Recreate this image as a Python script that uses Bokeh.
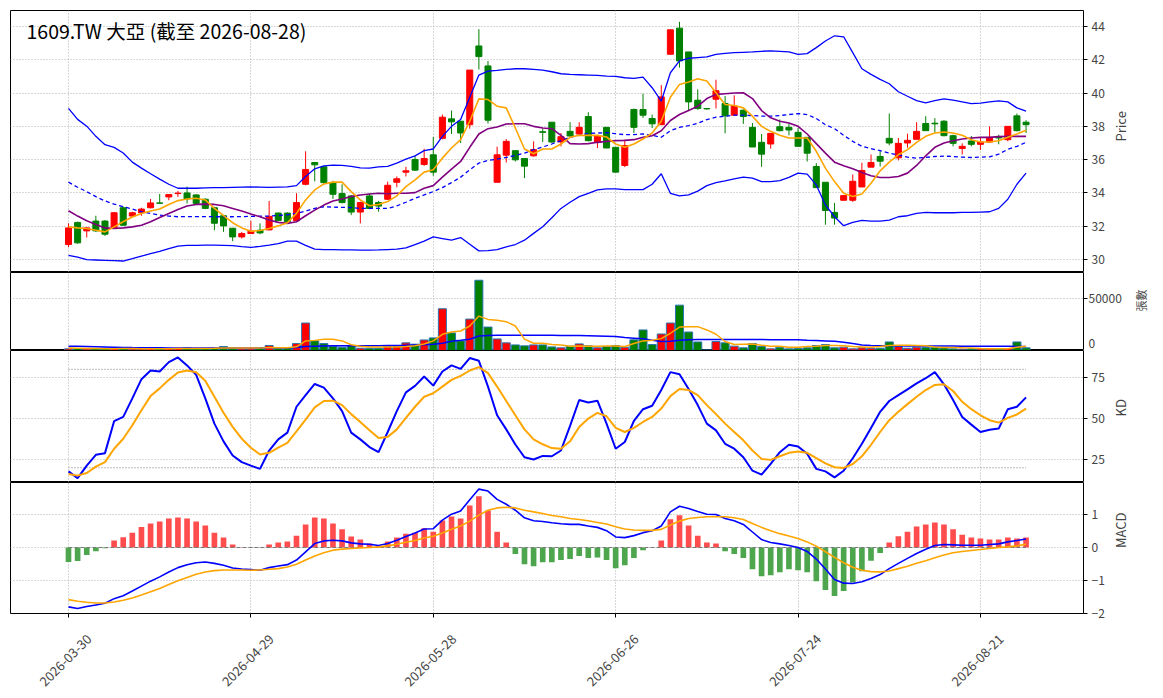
import math
from bokeh.plotting import figure
from bokeh.layouts import column
from bokeh.models import Range1d, FixedTicker, Label, LinearAxis
from bokeh.embed import file_html
from bokeh.resources import INLINE

# ---------------- data ----------------
title_text = "1609.TW 大亞 (截至 2026-08-28)"
tick_index = [0, 20, 40, 60, 80, 100]
tick_labels = ["2026-03-30", "2026-04-29", "2026-05-28", "2026-06-26", "2026-07-24", "2026-08-21"]

open_ = [30.9, 32.23, 31.72, 32.31, 32.31, 31.92, 33.11, 32.61, 32.81, 33.11,
         33.4, 33.76, 33.96, 34.0, 33.88, 33.62, 33.11, 32.63, 31.88, 31.36,
         31.56, 31.76, 31.78, 32.79, 32.79, 32.33, 34.52, 35.83, 35.57, 34.62,
         33.96, 33.82, 32.85, 33.82, 33.42, 33.62, 34.64, 35.25, 36.01, 35.71,
         36.29, 37.28, 38.45, 38.31, 38.1, 42.83, 41.63, 34.64, 36.27, 36.54,
         36.07, 36.23, 37.68, 38.25, 37.06, 37.7, 37.54, 38.59, 37.06, 37.94,
         36.74, 35.65, 39.01, 39.01, 38.47, 38.1, 42.33, 43.9, 42.47, 39.57,
         39.07, 39.63, 39.37, 38.67, 38.97, 37.94, 37.04, 36.94, 37.98, 37.94,
         37.64, 37.34, 35.59, 34.64, 32.83, 33.56, 33.56, 34.36, 35.55, 36.19,
         37.28, 36.11, 37.0, 37.22, 38.17, 38.19, 38.31, 37.44, 36.67, 37.12,
         36.92, 37.06, 37.36, 37.2, 38.63, 38.25]
high = [32.17, 32.27, 31.96, 32.63, 32.37, 32.85, 33.17, 32.87, 33.11, 33.64,
        33.94, 33.9, 34.12, 34.38, 33.92, 33.68, 33.17, 32.63, 31.88, 31.66,
        32.33, 32.17, 33.52, 32.83, 32.83, 33.98, 36.5, 35.83, 35.57, 34.73,
        34.52, 33.88, 33.48, 33.98, 33.52, 34.68, 34.99, 35.57, 36.23, 36.66,
        37.36, 38.71, 38.95, 38.31, 41.38, 43.84, 41.93, 36.78, 37.24, 36.54,
        36.07, 37.1, 37.86, 38.25, 37.6, 38.25, 38.25, 38.85, 37.5, 37.94,
        36.74, 37.2, 39.07, 39.96, 38.71, 40.48, 43.8, 44.28, 42.47, 40.22,
        39.1, 40.8, 39.82, 39.86, 39.01, 38.2, 37.54, 37.58, 38.41, 38.17,
        37.9, 37.34, 35.79, 34.64, 33.4, 33.84, 35.11, 35.81, 36.31, 36.54,
        38.77, 37.3, 37.56, 38.25, 38.61, 38.49, 38.37, 37.5, 36.98, 37.42,
        37.32, 38.0, 37.5, 38.0, 38.77, 38.37]
low = [30.75, 30.95, 31.32, 31.66, 31.42, 31.92, 32.04, 32.59, 32.63, 33.07,
       33.38, 33.56, 33.76, 33.37, 33.35, 33.03, 31.76, 31.66, 31.1, 31.26,
       31.56, 31.52, 31.76, 32.31, 32.21, 32.27, 34.46, 34.69, 34.52, 33.64,
       33.38, 32.67, 32.17, 33.03, 32.87, 33.58, 34.34, 34.99, 35.33, 35.63,
       35.03, 37.22, 37.54, 37.0, 37.86, 41.42, 38.17, 34.64, 35.83, 35.89,
       34.89, 36.19, 37.06, 37.0, 36.8, 37.38, 37.5, 37.1, 36.7, 36.7,
       35.25, 35.55, 37.6, 38.51, 37.9, 38.1, 42.33, 41.53, 38.95, 39.0,
       39.0, 39.07, 37.58, 38.67, 38.15, 36.76, 35.57, 36.66, 37.7, 37.46,
       36.8, 35.89, 34.32, 32.09, 32.09, 33.56, 33.46, 34.36, 35.55, 35.59,
       36.86, 35.95, 36.72, 37.22, 37.74, 37.62, 37.4, 36.8, 36.31, 36.8,
       36.58, 37.0, 36.92, 37.1, 37.7, 37.6]
close = [31.9, 31.0, 31.9, 31.72, 31.52, 32.81, 32.06, 32.81, 33.03, 33.4,
         33.38, 33.9, 33.99, 33.64, 33.37, 33.07, 32.18, 32.02, 31.36, 31.56,
         31.7, 31.6, 32.59, 32.35, 32.27, 33.42, 35.41, 35.69, 34.62, 33.92,
         33.42, 32.85, 33.42, 33.07, 33.21, 34.46, 34.85, 35.33, 35.37, 36.07,
         35.25, 38.55, 38.27, 37.6, 41.38, 42.19, 38.37, 36.29, 37.1, 35.99,
         35.61, 36.6, 37.64, 37.06, 37.38, 37.42, 37.94, 37.14, 37.4, 36.7,
         35.25, 36.84, 37.94, 38.67, 38.15, 39.77, 43.8, 41.93, 39.47, 39.07,
         39.05, 40.14, 38.63, 39.23, 38.59, 36.76, 36.33, 37.58, 37.74, 37.78,
         36.8, 36.39, 34.32, 32.95, 32.49, 33.84, 34.7, 35.35, 35.83, 35.91,
         37.0, 36.98, 37.16, 37.7, 37.74, 38.15, 37.44, 36.98, 36.8, 36.92,
         37.06, 37.34, 37.3, 38.0, 37.74, 38.1]
ma5 = [31.96, 31.9, 31.86, 31.76, 31.66, 31.96, 32.27, 32.55, 32.77, 32.91,
       33.03, 33.31, 33.54, 33.64, 33.68, 33.58, 33.07, 32.63, 32.21, 31.9,
       31.7, 31.74, 31.86, 32.02, 32.21, 32.77, 33.58, 34.18, 34.54, 34.65,
       34.65, 34.08, 33.58, 33.23, 33.31, 33.48, 33.82, 34.38, 34.78, 35.25,
       35.39, 36.09, 36.7, 37.2, 38.31, 39.65, 39.61, 39.21, 39.11, 37.9,
       36.64, 36.35, 36.64, 36.64, 36.94, 37.34, 37.46, 37.46, 37.46, 37.36,
       36.94, 36.74, 36.94, 37.24, 37.6, 38.31, 39.75, 40.52, 40.66, 40.86,
       40.72, 40.02, 39.31, 39.25, 39.11, 38.61, 38.0, 37.7, 37.46, 37.3,
       37.3, 37.3, 36.5, 35.49, 34.68, 33.98, 33.78, 33.94, 34.58, 35.33,
       35.85, 36.29, 36.6, 37.04, 37.4, 37.6, 37.66, 37.6, 37.46, 37.2,
       37.06, 37.06, 37.14, 37.34, 37.54, 37.76]
ma10 = [32.93, 32.61, 32.33, 32.1, 31.9, 31.86, 31.9, 31.96, 32.06, 32.27,
        32.53, 32.77, 33.01, 33.21, 33.31, 33.33, 33.31, 33.23, 33.07, 32.91,
        32.73, 32.57, 32.37, 32.23, 32.17, 32.27, 32.63, 32.97, 33.27, 33.52,
        33.64, 33.78, 33.88, 33.94, 33.98, 33.95, 33.98, 33.98, 34.02, 34.28,
        34.44, 34.95, 35.43, 35.89, 36.74, 37.54, 37.86, 37.96, 38.14, 38.16,
        38.16, 38.0, 37.9, 37.86, 37.46, 36.96, 36.94, 36.96, 37.04, 37.1,
        37.14, 37.16, 37.2, 37.34, 37.44, 37.74, 38.35, 38.71, 38.95, 39.21,
        39.67, 39.92, 39.96, 40.0, 40.02, 39.67, 38.95, 38.51, 38.31, 38.2,
        38.0, 37.54, 36.96, 36.39, 35.85, 35.63, 35.45, 35.23, 35.03, 34.93,
        34.93, 34.99, 35.19, 35.65, 36.23, 36.74, 37.0, 37.14, 37.24, 37.3,
        37.34, 37.34, 37.38, 37.4, 37.4, 37.4]
ma20 = [34.65, 34.34, 34.08, 33.78, 33.52, 33.33, 33.17, 33.03, 32.87, 32.77,
        32.67, 32.61, 32.57, 32.58, 32.58, 32.58, 32.57, 32.57, 32.57, 32.58,
        32.59, 32.6, 32.61, 32.64, 32.69, 32.77, 32.91, 33.07, 33.17, 33.15,
        33.13, 33.12, 33.07, 33.07, 33.07, 33.07, 33.22, 33.44, 33.68, 33.88,
        34.08, 34.32, 34.62, 34.95, 35.39, 35.79, 35.95, 36.03, 36.13, 36.25,
        36.39, 36.6, 36.76, 36.94, 37.14, 37.34, 37.46, 37.58, 37.6, 37.62,
        37.56, 37.5, 37.5, 37.54, 37.46, 37.34, 37.74, 37.94, 38.04, 38.18,
        38.41, 38.55, 38.61, 38.67, 38.67, 38.65, 38.61, 38.61, 38.65, 38.71,
        38.77, 38.71, 38.47, 38.1, 37.86, 37.46, 37.1, 36.8, 36.66, 36.54,
        36.39, 36.29, 36.15, 36.09, 36.13, 36.19, 36.21, 36.19, 36.15, 36.13,
        36.15, 36.17, 36.33, 36.62, 36.8, 37.04]
bb_upper = [39.08, 38.42, 38.01, 37.4, 36.9, 36.74, 36.4, 35.85, 35.49, 35.15,
            34.83, 34.52, 34.28, 34.28, 34.28, 34.3, 34.32, 34.32, 34.34, 34.35,
            34.36, 34.35, 34.34, 34.35, 34.36, 34.44, 34.99, 35.45, 35.63, 35.67,
            35.65, 35.6, 35.51, 35.49, 35.57, 35.59, 35.79, 36.03, 36.23, 36.54,
            36.64, 37.4, 38.0, 38.41, 39.75, 41.08, 41.32, 41.36, 41.42, 41.46,
            41.46, 41.42, 41.38, 41.28, 41.16, 41.12, 41.1, 41.08, 41.06, 41.02,
            41.0, 40.92, 40.88, 40.96, 40.32, 39.51, 41.22, 41.93, 42.09, 42.13,
            42.17, 42.33, 42.39, 42.43, 42.45, 42.47, 42.51, 42.53, 42.51, 42.47,
            42.33, 42.37, 42.73, 43.13, 43.44, 43.38, 42.43, 41.46, 41.12, 40.82,
            40.56, 40.08, 39.81, 39.55, 39.41, 39.55, 39.65, 39.57, 39.47, 39.37,
            39.39, 39.47, 39.53, 39.47, 39.11, 38.91]
bb_lower = [30.25, 30.15, 29.99, 29.97, 29.95, 29.93, 29.91, 30.05, 30.21, 30.35,
            30.49, 30.65, 30.81, 30.85, 30.85, 30.86, 30.86, 30.85, 30.84, 30.77,
            30.73, 30.79, 30.87, 30.96, 31.1, 31.1, 30.85, 30.63, 30.6, 30.59,
            30.58, 30.58, 30.57, 30.57, 30.58, 30.6, 30.62, 30.7, 30.9, 31.1,
            31.36, 31.26, 31.16, 31.32, 30.92, 30.52, 30.54, 30.6, 30.76, 30.9,
            31.16, 31.57, 31.97, 32.51, 33.07, 33.44, 33.78, 33.98, 34.18, 34.24,
            34.24, 34.2, 34.2, 34.2, 34.52, 35.15, 33.98, 33.82, 33.88, 34.11,
            34.44, 34.62, 34.72, 34.85, 34.95, 34.89, 34.68, 34.68, 34.74, 34.93,
            35.19, 35.13, 34.48, 33.28, 32.57, 32.03, 32.23, 32.35, 32.31, 32.31,
            32.37, 32.57, 32.63, 32.77, 32.83, 32.81, 32.81, 32.81, 32.83, 32.83,
            32.85, 32.87, 33.07, 33.62, 34.52, 35.19]

volume = [1600, 1900, 1600, 1900, 2200, 1900, 1900, 1600, 1600, 1900,
          1900, 1900, 1900, 2600, 1900, 1900, 2200, 3800, 2200, 1600,
          1600, 2200, 4800, 1900, 2600, 6700, 26600, 9300, 6700, 4200,
          3200, 4500, 2200, 2200, 2200, 3800, 3800, 7400, 6100, 10200,
          12200, 40400, 17000, 9300, 30400, 68000, 22700, 11200, 7400, 5400,
          4500, 5400, 5400, 3500, 2600, 4200, 6400, 4500, 2600, 3800,
          4800, 3200, 10300, 19900, 5800, 16000, 26600, 43900, 17900, 8300,
          500, 8700, 7400, 4200, 2600, 6700, 3800, 1600, 3200, 1600,
          2200, 2600, 4800, 5800, 2600, 3200, 1600, 2600, 2200, 2200,
          8300, 3800, 2200, 3200, 2900, 2900, 2600, 1600, 1300, 1600,
          1600, 1600, 1600, 1900, 8300, 2600]
vol_ma5 = [2300, 2200, 2000, 1900, 1800, 1800, 1900, 1900, 1800, 1800,
           1800, 1800, 1900, 2000, 2000, 2000, 2100, 2500, 2500, 2300,
           2300, 2300, 2900, 2700, 2600, 3600, 9300, 9800, 10900, 10900,
           9300, 5600, 4200, 3300, 3300, 3400, 3400, 3900, 4700, 6300,
           9300, 15700, 17900, 18900, 23700, 33300, 30100, 29200, 27900, 23700,
           11000, 7000, 7000, 5700, 5400, 4200, 4400, 4200, 4100, 4300,
           4300, 3800, 6700, 9300, 9900, 11500, 16700, 22700, 23100, 23100,
           19900, 15700, 8700, 5800, 6100, 6400, 5100, 4200, 4200, 3200,
           3200, 3800, 4200, 4800, 4800, 4500, 3800, 3500, 3200, 3800,
           4800, 5100, 5100, 4800, 4500, 3500, 3000, 3000, 2600, 2400,
           2000, 1800, 1700, 1800, 3200, 4200]
vol_ma20 = [4200, 4000, 3800, 3600, 3400, 3200, 3000, 2800, 2700, 2600,
            2600, 2500, 2500, 2500, 2500, 2500, 2500, 2500, 2500, 2500,
            2500, 2500, 2600, 2600, 2700, 2900, 3900, 4200, 4400, 4500,
            4500, 4600, 4600, 4600, 4700, 4800, 4900, 5100, 5400, 5500,
            6100, 7000, 9000, 9900, 10900, 14100, 14400, 14700, 14700, 14700,
            14800, 14800, 14700, 14700, 14600, 14500, 14400, 14300, 14100, 13900,
            13500, 12500, 11900, 11300, 9900, 8700, 8900, 9900, 10300, 10600,
            10600, 10600, 10600, 10600, 10600, 10600, 10600, 10500, 10500, 10500,
            10400, 9900, 9600, 9300, 9000, 8000, 6700, 5400, 4800, 4500,
            4500, 4500, 4400, 4400, 4400, 4300, 4300, 4300, 4200, 4200,
            4200, 4100, 4000, 4000, 3900, 3800]

k_line = [17.8, 13.7, 21.3, 27.9, 28.9, 48.4, 51.0, 62.3, 74.0, 79.3,
          78.7, 84.4, 87.3, 82.4, 76.6, 62.3, 46.9, 36.1, 27.5, 23.4,
          21.3, 19.3, 30.5, 37.3, 41.4, 57.2, 64.3, 71.1, 68.9, 62.3,
          54.5, 41.4, 37.3, 32.6, 29.5, 41.8, 54.5, 66.0, 69.9, 75.6,
          70.1, 78.7, 82.4, 80.3, 86.9, 85.2, 69.5, 52.0, 43.4, 34.2,
          26.4, 25.0, 27.2, 27.0, 30.5, 45.5, 61.3, 59.8, 60.9, 46.9,
          31.6, 35.7, 48.6, 55.7, 57.8, 67.4, 78.3, 77.0, 68.0, 58.2,
          46.9, 42.8, 34.6, 31.6, 26.4, 18.2, 15.8, 22.3, 29.5, 34.0,
          33.0, 28.5, 19.3, 17.8, 14.1, 18.2, 25.8, 34.6, 44.3, 54.1,
          60.7, 64.3, 67.8, 71.5, 74.6, 78.3, 70.9, 61.3, 51.0, 46.3,
          41.8, 43.2, 43.9, 55.7, 57.2, 62.9]
d_line = [16.2, 15.2, 16.8, 20.7, 23.4, 31.6, 37.7, 45.9, 55.1, 63.7,
          68.4, 73.6, 78.1, 79.3, 78.3, 73.0, 63.3, 53.5, 44.9, 37.7,
          32.2, 28.1, 29.1, 32.2, 35.2, 42.2, 49.4, 56.8, 60.7, 60.9,
          58.2, 52.7, 47.9, 42.8, 38.1, 38.7, 43.4, 50.4, 57.2, 63.3,
          65.4, 69.5, 73.6, 76.0, 79.3, 81.4, 77.7, 69.5, 60.7, 52.0,
          43.4, 37.3, 34.3, 32.0, 31.6, 36.1, 44.9, 50.0, 53.5, 51.4,
          44.3, 41.8, 44.3, 47.9, 51.0, 56.1, 63.7, 68.0, 67.4, 64.3,
          58.2, 52.7, 46.9, 41.8, 36.7, 30.5, 25.4, 24.8, 27.0, 29.1,
          29.9, 29.1, 25.8, 22.7, 20.3, 19.9, 22.3, 27.0, 34.0, 41.8,
          49.0, 54.1, 58.8, 63.3, 67.4, 70.5, 70.9, 66.8, 60.2, 55.7,
          52.0, 49.0, 47.5, 50.4, 52.5, 56.1]
kd_levels = [80, 20]

dif = [-1.80, -1.85, -1.79, -1.74, -1.69, -1.55, -1.46, -1.32, -1.17, -1.02,
       -0.89, -0.74, -0.61, -0.52, -0.46, -0.44, -0.48, -0.54, -0.62, -0.65,
       -0.67, -0.69, -0.61, -0.56, -0.52, -0.38, -0.13, 0.12, 0.20, 0.22,
       0.20, 0.14, 0.11, 0.10, 0.06, 0.12, 0.22, 0.33, 0.44, 0.56,
       0.57, 0.83, 1.01, 1.11, 1.45, 1.77, 1.71, 1.46, 1.31, 1.13,
       0.90, 0.81, 0.79, 0.75, 0.72, 0.70, 0.70, 0.65, 0.61, 0.51,
       0.32, 0.30, 0.36, 0.45, 0.51, 0.65, 1.08, 1.25, 1.18, 1.09,
       1.01, 1.00, 0.88, 0.81, 0.70, 0.47, 0.24, 0.15, 0.11, 0.06,
       0.00, -0.12, -0.35, -0.65, -0.97, -1.08, -1.09, -1.04, -0.94, -0.82,
       -0.64, -0.48, -0.33, -0.18, -0.05, 0.06, 0.09, 0.08, 0.07, 0.07,
       0.07, 0.09, 0.11, 0.17, 0.21, 0.26]
dea = [-1.58, -1.63, -1.66, -1.68, -1.68, -1.65, -1.60, -1.53, -1.44, -1.34,
       -1.24, -1.12, -1.01, -0.91, -0.81, -0.74, -0.70, -0.68, -0.68, -0.68,
       -0.69, -0.68, -0.66, -0.64, -0.59, -0.51, -0.38, -0.26, -0.16, -0.08,
       -0.05, -0.03, -0.01, 0.00, 0.02, 0.05, 0.10, 0.16, 0.21, 0.29,
       0.34, 0.44, 0.55, 0.65, 0.80, 0.98, 1.13, 1.20, 1.22, 1.20,
       1.13, 1.08, 1.03, 0.97, 0.93, 0.88, 0.85, 0.81, 0.76, 0.71,
       0.63, 0.56, 0.53, 0.52, 0.52, 0.55, 0.68, 0.80, 0.88, 0.91,
       0.93, 0.93, 0.93, 0.90, 0.85, 0.73, 0.61, 0.51, 0.42, 0.35,
       0.27, 0.17, 0.04, -0.13, -0.30, -0.46, -0.60, -0.69, -0.73, -0.74,
       -0.71, -0.64, -0.57, -0.48, -0.40, -0.31, -0.23, -0.16, -0.12, -0.09,
       -0.06, -0.03, 0.00, 0.02, 0.05, 0.10]
macd_hist = [-0.44, -0.41, -0.23, -0.11, -0.02, 0.21, 0.31, 0.45, 0.62, 0.73,
             0.79, 0.88, 0.91, 0.88, 0.79, 0.67, 0.45, 0.30, 0.09, 0.005,
             -0.01, -0.01, 0.09, 0.15, 0.18, 0.36, 0.70, 0.91, 0.88, 0.73,
             0.55, 0.33, 0.24, 0.12, 0.05, 0.18, 0.30, 0.42, 0.45, 0.58,
             0.48, 0.82, 0.94, 0.88, 1.27, 1.55, 1.12, 0.48, 0.15, -0.20,
             -0.51, -0.57, -0.45, -0.45, -0.38, -0.35, -0.26, -0.32, -0.30, -0.38,
             -0.63, -0.54, -0.32, -0.08, -0.01, 0.21, 0.86, 0.98, 0.67, 0.36,
             0.15, 0.12, -0.11, -0.20, -0.32, -0.66, -0.87, -0.84, -0.75, -0.66,
             -0.69, -0.75, -1.02, -1.29, -1.47, -1.32, -1.06, -0.72, -0.40, -0.17,
             0.15, 0.34, 0.48, 0.64, 0.70, 0.76, 0.70, 0.55, 0.39, 0.30,
             0.27, 0.24, 0.24, 0.30, 0.27, 0.30]
zero_level = [0]

# ---------------- derived ----------------
n = len(close)
xs = list(range(n))
UP, DOWN = "#ff0000", "#008000"
is_up = [c >= o for o, c in zip(open_, close)]
candle_col = [UP if u else DOWN for u in is_up]
body_top = [max(o, c) for o, c in zip(open_, close)]
body_bot = [min(o, c) for o, c in zip(open_, close)]
hist_col = ["#ff4d4d" if h >= 0 else "#4da64d" for h in macd_hist]

FONT = "Noto Sans CJK TC"
RIGHT = 80
W = 1083 + RIGHT
XR = Range1d(-6.36, 111.3)
GRID = "#b0b0b0"


def style_yaxis(ax, ylabel, label_size):
    ax.axis_label = ylabel
    ax.axis_label_orientation = math.pi / 2
    ax.axis_label_text_font = FONT
    ax.axis_label_text_font_style = "normal"
    ax.axis_label_text_font_size = label_size
    ax.axis_label_standoff = 13
    ax.axis_line_color = None
    ax.major_tick_out = 4
    ax.major_tick_in = 0
    ax.minor_tick_line_color = None
    ax.major_label_text_font = FONT
    ax.major_label_text_font_size = "12px"
    ax.major_label_standoff = 4


def make_fig(height, yr, yticks, ylabel, label_size="13px", bottom=0, top=0):
    p = figure(width=W, height=height, x_range=XR, y_range=yr,
               y_axis_location="right", output_backend="svg",
               toolbar_location=None, min_border_left=10, min_border_right=RIGHT,
               min_border_top=top, min_border_bottom=bottom)
    p.outline_line_color = "black"
    p.outline_line_width = 1
    p.background_fill_color = "white"
    p.border_fill_color = "white"
    p.xaxis.ticker = FixedTicker(ticks=tick_index)
    p.yaxis.ticker = FixedTicker(ticks=yticks)
    for g in (p.xgrid, p.ygrid):
        g.grid_line_color = GRID
        g.grid_line_dash = "1 2"
        g.grid_line_width = 1
    style_yaxis(p.yaxis, ylabel, label_size)
    return p


# ---- price panel ----
p1 = make_fig(272, Range1d(29.22, 44.96), [30, 32, 34, 36, 38, 40, 42, 44], "Price", top=10)
p1.xaxis.visible = False
p1.segment(x0=xs, y0=low, x1=xs, y1=high, color=candle_col, line_width=1)
p1.vbar(x=xs, width=0.66, top=body_top, bottom=body_bot, fill_color=candle_col,
        line_color=candle_col, line_width=1)
p1.line(xs, bb_upper, color="#0000ff", line_width=1.3)
p1.line(xs, bb_lower, color="#0000ff", line_width=1.3)
p1.line(xs, ma20, color="#0000ff", line_width=1.3, line_dash="4 3")
p1.line(xs, ma10, color="#800080", line_width=1.6)
p1.line(xs, ma5, color="#ffa500", line_width=1.6)
p1.add_layout(Label(x=-4.6, y=43.75, text=title_text, text_font=FONT,
                    text_font_size="19.5px", text_color="black", text_baseline="middle"))

# ---- volume panel ----
vol_ticks = [0, 50000]
p2 = make_fig(78, Range1d(0, 75500), vol_ticks, None)
p2.xaxis.visible = False
# tick marks on the first axis; labels on a second axis (the "0" lifted so it is not cut at the panel edge)
axA = p2.yaxis[0]
axA.major_label_text_font_size = "0px"
axA.major_label_text_color = None
axA.major_label_standoff = 0
zero_lift = 6800
axB = LinearAxis(ticker=FixedTicker(ticks=[vol_ticks[0] + zero_lift, vol_ticks[1]]),
                 major_label_overrides={vol_ticks[0] + zero_lift: "0", vol_ticks[1]: "50000"},
                 y_range_name="default")
style_yaxis(axB, "張數", "11px")
axB.major_tick_out = 0
axB.major_tick_line_color = None
axB.major_label_standoff = 1
axB.axis_label_standoff = 16
p2.add_layout(axB, "right")
vol_col = [UP if u else DOWN for u in is_up]
p2.vbar(x=xs, width=0.88, top=volume, bottom=0, fill_color=vol_col,
        line_color="#2a75b0", line_width=1)
p2.line(xs, vol_ma20, color="#0000ff", line_width=1.5)
p2.line(xs, vol_ma5, color="#ffa500", line_width=1.5)

# ---- KD panel ----
p3 = make_fig(132, Range1d(11.0, 91.5), [25, 50, 75], "KD")
p3.xaxis.visible = False
for lvl in kd_levels:
    p3.line([xs[0], xs[-1]], [lvl, lvl], color="#7a7a7a", line_width=1, line_dash="1 2")
p3.line(xs, k_line, color="#0000ff", line_width=2)
p3.line(xs, d_line, color="#ffa500", line_width=2)

# ---- MACD panel ----
p4 = make_fig(215, Range1d(-2.0, 1.97), [-2, -1, 0, 1], "MACD", bottom=84)
p4.yaxis.major_label_overrides = {-2: "\u22122", -1: "\u22121", 0: "0", 1: "1"}
p4.vbar(x=xs, width=0.62, top=macd_hist, bottom=0, fill_color=hist_col,
        line_color=None)
for lvl in zero_level:
    p4.line([xs[0], xs[-1]], [lvl, lvl], color="#7a7a7a", line_width=1, line_dash="4 2")
p4.line(xs, dif, color="#0000ff", line_width=1.6)
p4.line(xs, dea, color="#ffa500", line_width=1.6)
# tick marks on the main x axis
p4.xaxis.major_label_text_font_size = "0px"
p4.xaxis.major_label_text_color = None
p4.xaxis.major_label_standoff = 0
p4.xaxis.axis_line_color = None
p4.xaxis.major_tick_out = 4
p4.xaxis.major_tick_in = 0
p4.xaxis.minor_tick_line_color = None
# rotated date labels centred under the ticks (Bokeh anchors rotated labels at their end)
label_shift = 2.25
shifted = [t + label_shift for t in tick_index]
date_axis = LinearAxis(ticker=FixedTicker(ticks=shifted),
                       major_label_overrides={s: lab for s, lab in zip(shifted, tick_labels)},
                       major_label_orientation=math.pi / 4,
                       major_label_text_font=FONT, major_label_text_font_size="13px",
                       major_label_standoff=13, major_tick_line_color=None,
                       minor_tick_line_color=None, axis_line_color=None)
p4.add_layout(date_axis, "below")

layout = column(p1, p2, p3, p4, spacing=0)
open("out.html", "w").write(file_html(layout, INLINE))
